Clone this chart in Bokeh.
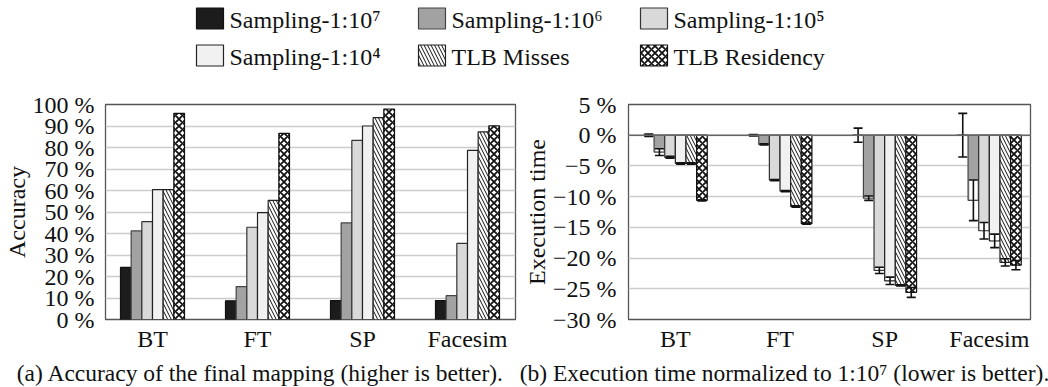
from bokeh.plotting import figure
from bokeh.layouts import column, row
from bokeh.models import Range1d, FixedTicker, ColumnDataSource, Whisker, TeeHead, Span
from bokeh.embed import file_html
from bokeh.resources import INLINE
from bokeh.core.properties import value

# ---------------- data ----------------
benchmarks = ["BT", "FT", "SP", "Facesim"]
series_names = ["Sampling-1:10\u2077", "Sampling-1:10\u2076", "Sampling-1:10\u2075",
                "Sampling-1:10\u2074", "TLB Misses", "TLB Residency"]

# (a) accuracy of the final mapping, percent
acc_s1e7 = [24.2, 8.7, 8.8, 8.8]
acc_s1e6 = [41.2, 15.3, 44.9, 11.1]
acc_s1e5 = [45.5, 42.9, 83.3, 35.4]
acc_s1e4 = [60.4, 49.7, 90.0, 78.7]
acc_misses = [60.4, 55.4, 93.9, 87.3]
acc_resid = [95.9, 86.6, 97.9, 90.1]

# (b) execution time normalized to 1:10^7, percent
time_s1e7 = [0.0, 0.0, 0.0, 0.0]
time_s1e6 = [-2.75, -1.5, -10.25, -10.6]
time_s1e5 = [-3.6, -7.3, -22.0, -15.55]
time_s1e4 = [-4.6, -9.1, -23.7, -17.2]
time_misses = [-4.6, -11.6, -24.45, -20.7]
time_resid = [-10.6, -14.4, -25.6, -21.15]

err_s1e7 = [0.2, 0.1, 1.15, 3.55]
err_s1e6 = [0.55, 0.1, 0.35, 3.3]
err_s1e5 = [0.15, 0.1, 0.5, 1.35]
err_s1e4 = [0.1, 0.1, 0.6, 1.1]
err_misses = [0.1, 0.1, 0.1, 0.6]
err_resid = [0.1, 0.1, 0.8, 0.75]

acc_ticks = [0, 10, 20, 30, 40, 50, 60, 70, 80, 90, 100]
acc_tick_labels = ["0 %", "10 %", "20 %", "30 %", "40 %", "50 %", "60 %", "70 %", "80 %", "90 %", "100 %"]
time_ticks = [5, 0, -5, -10, -15, -20, -25, -30]
time_tick_labels = ["5 %", "0 %", "\u22125 %", "\u221210 %", "\u221215 %", "\u221220 %", "\u221225 %", "\u221230 %"]

y_label_a = "Accuracy"
y_label_b = "Execution time"
caption_a = "(a) Accuracy of the final mapping (higher is better)."
caption_b = "(b) Execution time normalized to 1:10\u2077 (lower is better)."

acc_series = [acc_s1e7, acc_s1e6, acc_s1e5, acc_s1e4, acc_misses, acc_resid]
time_series = [time_s1e7, time_s1e6, time_s1e5, time_s1e4, time_misses, time_resid]
err_series = [err_s1e7, err_s1e6, err_s1e5, err_s1e4, err_misses, err_resid]

# ---------------- styles ----------------
FONT = "Liberation Serif"
FS = "24px"
styles = [
    dict(fill_color="#1c1c1c", line_color="#111111"),
    dict(fill_color="#a2a2a2", line_color="#444444"),
    dict(fill_color="#d9d9d9", line_color="#333333"),
    dict(fill_color="#f1f1f1", line_color="#222222"),
    dict(fill_color="white", line_color="#222222", hatch_pattern="\\", hatch_color="#111111",
         hatch_scale=7, hatch_weight=1.0),
    dict(fill_color="white", line_color="#111111", hatch_pattern="x", hatch_color="#111111",
         hatch_scale=7, hatch_weight=1.8),
]
hatched = [False, False, False, False, True, True]
BAR_W = 0.1016
N = len(series_names)


def base_fig(width, height, x_end, y0, y1, ticks, labels, ylabel, mb):
    p = figure(width=width, height=height, x_range=Range1d(-0.4476, x_end),
               y_range=Range1d(y0, y1), output_backend="svg", toolbar_location=None,
               min_border_left=mb[0], min_border_right=mb[1], min_border_top=mb[2],
               min_border_bottom=mb[3])
    p.background_fill_color = "white"
    p.border_fill_color = "white"
    p.outline_line_color = "#555555"
    p.outline_line_width = 1.3
    p.xgrid.grid_line_color = None
    p.ygrid.grid_line_color = "#cccccc"
    p.ygrid.grid_line_width = 1.5
    p.yaxis.ticker = FixedTicker(ticks=ticks)
    p.ygrid.ticker = FixedTicker(ticks=ticks)
    p.yaxis.major_label_overrides = {t: l for t, l in zip(ticks, labels)}
    p.xaxis.ticker = FixedTicker(ticks=list(range(len(benchmarks))))
    p.xaxis.major_label_overrides = {i: b for i, b in enumerate(benchmarks)}
    for ax in (p.xaxis, p.yaxis):
        ax.axis_line_color = None
        ax.major_tick_line_color = None
        ax.minor_tick_line_color = None
        ax.major_tick_out = 0
        ax.major_tick_in = 0
        ax.minor_tick_out = 0
        ax.minor_tick_in = 0
        ax.major_label_text_font = FONT
        ax.major_label_text_font_size = FS
        ax.major_label_text_color = "#111111"
    p.xaxis.major_label_standoff = 6
    p.yaxis.axis_label = ylabel
    p.yaxis.axis_label_text_font = FONT
    p.yaxis.axis_label_text_font_size = FS
    p.yaxis.axis_label_text_font_style = "normal"
    p.yaxis.axis_label_text_color = "#111111"
    return p


# ---------------- (a) accuracy ----------------
pa = base_fig(520, 278, -0.4476 + 410 / 105.0, 0, 100, acc_ticks, acc_tick_labels, y_label_a,
              (105, 5, 24, 38))
pa.yaxis.major_label_standoff = 11
pa.yaxis.axis_label_standoff = 0
for i in range(N):
    xs = [g + (i - (N - 1) / 2) * BAR_W for g in range(len(benchmarks))]
    src = ColumnDataSource(dict(x=xs, top=acc_series[i]))
    pa.vbar(x="x", top="top", bottom=0, width=BAR_W, source=src, line_width=1.2, **styles[i])

# ---------------- (b) execution time ----------------
pb = base_fig(528, 278, -0.447 + 404 / 105.2, -30, 5, time_ticks, time_tick_labels, y_label_b,
              (106, 18, 22, 39))
pb.yaxis.major_label_standoff = 12
pb.yaxis.axis_label_standoff = 0
for i in range(N):
    xs = [g + (i - (N - 1) / 2) * BAR_W for g in range(len(benchmarks))]
    vals = time_series[i]
    errs = err_series[i]
    src = ColumnDataSource(dict(x=xs, v=vals, upper=[v + e for v, e in zip(vals, errs)],
                                lower=[v - e for v, e in zip(vals, errs)]))
    pb.vbar(x="x", top=0, bottom="v", width=BAR_W, source=src, line_width=1.2, **styles[i])
    if not hatched[i]:
        wl, wr, wt, wb = [], [], [], []
        for x, v, e in zip(xs, vals, errs):
            if v + e < 0:
                wl.append(x - BAR_W / 2 + 0.012)
                wr.append(x + BAR_W / 2 - 0.012)
                wt.append(v + e)
                wb.append(v + 0.12)
        if wl:
            pb.quad(left=wl, right=wr, top=wt, bottom=wb, fill_color="white", line_color=None)
    pb.add_layout(Whisker(source=src, base="x", upper="upper", lower="lower",
                          line_color="#111111", line_width=1.6, level="annotation",
                          upper_head=TeeHead(size=9, line_width=1.6, line_color="#111111"),
                          lower_head=TeeHead(size=9, line_width=1.6, line_color="#111111")))
pb.add_layout(Span(location=0, dimension="width", line_color="#666666", line_width=1.6))

# ---------------- legend ----------------
pl = figure(width=1048, height=80, x_range=Range1d(0, 1048), y_range=Range1d(80, 0),
            output_backend="svg", toolbar_location=None, min_border=0)
pl.axis.visible = False
pl.grid.grid_line_color = None
pl.outline_line_color = None
col_x = [196, 418, 640]
row_y = [18, 55]
for i in range(N):
    cx = col_x[i % 3]
    cy = row_y[i // 3]
    pl.quad(left=[cx], right=[cx + 27], top=[cy - 10.5], bottom=[cy + 10.5], line_width=1.2,
            **styles[i])
    pl.text(x=[cx + 33], y=[cy + 1], text=[series_names[i]], text_font=value(FONT),
            text_font_size=FS, text_baseline="middle", text_align="left", text_color="#111111")

# ---------------- captions ----------------
pc = figure(width=1048, height=29, x_range=Range1d(0, 1048), y_range=Range1d(29, 0),
            output_backend="svg", toolbar_location=None, min_border=0)
pc.axis.visible = False
pc.grid.grid_line_color = None
pc.outline_line_color = None
pc.text(x=[260, 784], y=[14, 14], text=[caption_a, caption_b], text_font=value(FONT),
        text_font_size="23.5px", text_baseline="middle", text_align="center", text_color="#111111")

layout = column(pl, row(pa, pb), pc)
open("out.html", "w").write(file_html(layout, INLINE))
